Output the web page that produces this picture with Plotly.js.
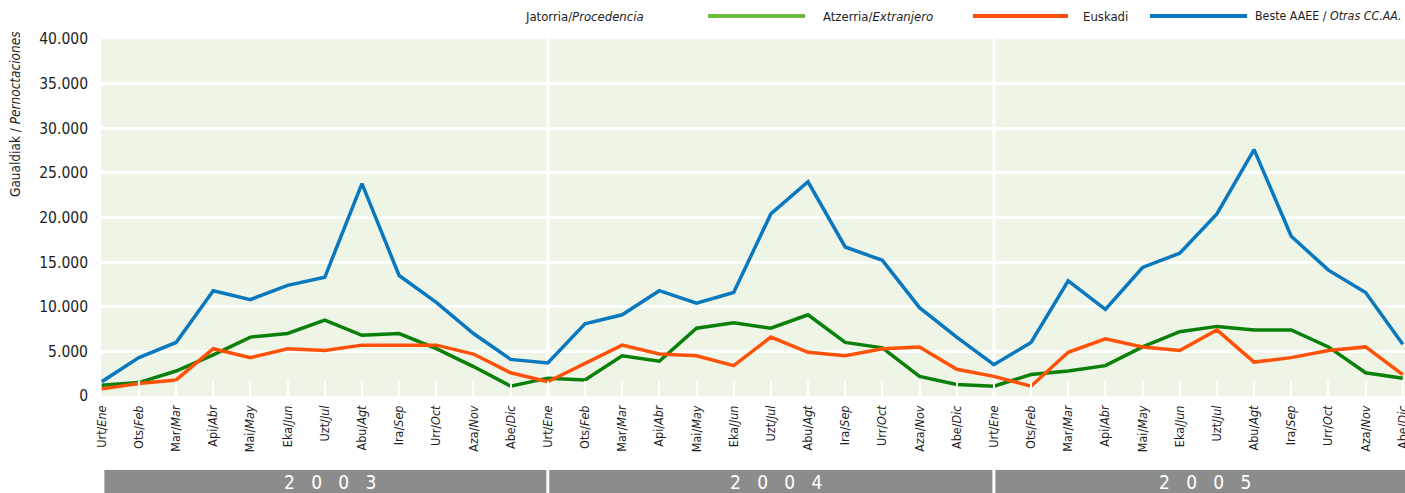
<!DOCTYPE html>
<html>
<head>
<meta charset="utf-8">
<script src="https://cdn.plot.ly/plotly-3.0.1.min.js"></script>
<style>
html,body{margin:0;padding:0;background:#fff;}
#chart{width:1405px;height:493px;}
</style>
</head>
<body>
<div id="chart"></div>
<script>
// ---- data ----
const months = ['Urt/<i>Ene</i>','Ots/<i>Feb</i>','Mar/<i>Mar</i>','Api/<i>Abr</i>','Mai/<i>May</i>','Eka/<i>Jun</i>',
                'Uzt/<i>Jul</i>','Abu/<i>Agt</i>','Ira/<i>Sep</i>','Urr/<i>Oct</i>','Aza/<i>Nov</i>','Abe/<i>Dic</i>'];
const years = ['2003','2004','2005'];

const extranjero = [1200,1500,2800,4600,6600,7000,8500,6800,7000,5300,3300,1100,
                    2000,1800,4500,3900,7600,8200,7600,9100,6000,5400,2200,1300,
                    1100,2400,2800,3400,5500,7200,7800,7400,7400,5500,2600,2000];
const euskadi    = [800,1400,1800,5300,4300,5300,5100,5700,5700,5700,4700,2600,
                    1600,3600,5700,4700,4500,3400,6600,4900,4500,5300,5500,3000,
                    2200,1100,4900,6400,5500,5100,7400,3800,4300,5100,5500,2400];
const otras      = [1600,4300,6000,11800,10800,12400,13300,23800,13500,10500,7000,4100,
                    3700,8100,9100,11800,10400,11600,20400,24000,16700,15200,9900,6600,
                    3500,6000,12900,9700,14400,16000,20400,27600,17900,14100,11600,5800];

const seriesNames = ['Atzerria/<i>Extranjero</i>','Euskadi','Beste AAEE / <i>Otras CC.AA.</i>'];
const legendTitle = 'Jatorria/<i>Procedencia</i>';
const yTitle = 'Gaualdiak / <i>Pernoctaciones</i>';

// ---- derived ----
const ticktext = [];
years.forEach(() => months.forEach(m => ticktext.push(m)));
const xs = ticktext.map((_, i) => i);

const FONT = '"Liberation Sans Narrow","DejaVu Sans Condensed","Roboto Condensed",sans-serif';
const W = 1405, H = 493, ML = 101, MR = 0, MT = 39, MB = 97;
const XR = [-0.02, 35.06];
const plotW = W - ML - MR, plotH = H - MT - MB;
const px2py = p => (H - MB - p) / plotH;          // pixel y -> paper y
const px2px = p => (p - ML) / plotW;              // pixel x -> paper x
const d2px = v => (v - XR[0]) / (XR[1] - XR[0]);  // data x -> paper x

const colGreen = '#0A800A', colOrange = '#FF5208', colBlue = '#0A78BE';
const legGreen = '#6CBF3E';
const TXT = '#1e1e1e';

const traces = [
  {x: xs, y: extranjero, name: seriesNames[0], type: 'scatter', mode: 'lines',
   line: {color: colGreen, width: 3.5}, showlegend: false, hoverinfo: 'y'},
  {x: xs, y: otras, name: seriesNames[2], type: 'scatter', mode: 'lines',
   line: {color: colBlue, width: 3.5}, showlegend: false, hoverinfo: 'y'},
  {x: xs, y: euskadi, name: seriesNames[1], type: 'scatter', mode: 'lines',
   line: {color: colOrange, width: 3.5}, showlegend: false, hoverinfo: 'y'}
];

const shapes = [];
const annotations = [];

// year separators
for (let i = 1; i < years.length; i++) {
  shapes.push({type: 'line', xref: 'x', yref: 'paper', x0: i*12, x1: i*12, y0: 0, y1: 1,
               line: {color: '#ffffff', width: 3}, layer: 'below'});
}
// year bars
years.forEach((yr, i) => {
  const x0 = i === 0 ? 0.07 : i*12 + 0.04;
  const x1 = i === years.length - 1 ? XR[1] : i*12 + 11.96;
  shapes.push({type: 'rect', xref: 'paper', yref: 'paper',
               x0: d2px(x0), x1: d2px(x1), y0: px2py(470), y1: px2py(505),
               fillcolor: '#8C8C8C', line: {width: 0}});
  const xc = (x0 + x1) / 2;
  annotations.push({xref: 'paper', yref: 'paper', x: d2px(xc) + 5/plotW, y: px2py(482),
                    xanchor: 'center', yanchor: 'middle', showarrow: false,
                    text: yr.split('').join('\u00A0\u00A0\u00A0'),
                    font: {family: FONT, size: 19, color: '#ffffff'}});
});

// custom legend
const ly = px2py(16);
annotations.push({xref: 'paper', yref: 'paper', x: px2px(523), y: ly, xanchor: 'left', yanchor: 'middle',
                  showarrow: false, text: legendTitle, font: {family: FONT, size: 13, color: TXT}});
const legItems = [
  {name: seriesNames[0], color: legGreen, l0: 708, l1: 805, tx: 821, anchor: 'left', fs: 13},
  {name: seriesNames[1], color: colOrange, l0: 973, l1: 1068, tx: 1081, anchor: 'left', fs: 13},
  {name: seriesNames[2], color: colBlue, l0: 1150, l1: 1247, tx: 1404, anchor: 'right', fs: 12.3}
];
legItems.forEach(it => {
  shapes.push({type: 'line', xref: 'paper', yref: 'paper', x0: px2px(it.l0), x1: px2px(it.l1),
               y0: ly, y1: ly, line: {color: it.color, width: 4}});
  annotations.push({xref: 'paper', yref: 'paper', x: px2px(it.tx), y: ly, xanchor: it.anchor, yanchor: 'middle',
                    showarrow: false, text: it.name, font: {family: FONT, size: it.fs, color: TXT}});
});

// y title
annotations.push({xref: 'paper', yref: 'paper', x: px2px(15), y: px2py(114), xanchor: 'center', yanchor: 'middle',
                  showarrow: false, textangle: -90, text: yTitle,
                  font: {family: FONT, size: 13.5, color: TXT}});

const layout = {
  width: W, height: H,
  margin: {l: ML, r: MR, t: MT, b: MB, pad: 0},
  paper_bgcolor: '#ffffff',
  plot_bgcolor: '#EEF4E6',
  separators: ',.',
  showlegend: false,
  font: {family: FONT, color: TXT},
  xaxis: {
    range: XR, tickmode: 'array', tickvals: xs, ticktext: ticktext,
    tickangle: -90, ticks: 'inside', ticklen: 15, tickwidth: 2, tickcolor: '#ffffff',
    showgrid: false, zeroline: false, showline: false, ticklabeloverflow: 'allow',
    tickfont: {family: FONT, size: 12.5, color: TXT}, ticklabelstandoff: 6
  },
  yaxis: {
    range: [0, 40000], tickmode: 'array',
    tickvals: [0,5000,10000,15000,20000,25000,30000,35000,40000],
    tickformat: ',.0f', showgrid: true, gridcolor: '#ffffff', gridwidth: 3,
    zeroline: false, showline: false, ticks: '',
    tickfont: {family: FONT, size: 15.5, color: TXT}, ticklabelstandoff: 12
  },
  shapes: shapes,
  annotations: annotations
};

Plotly.newPlot('chart', traces, layout, {displayModeBar: false, staticPlot: true});
</script>
</body>
</html>
